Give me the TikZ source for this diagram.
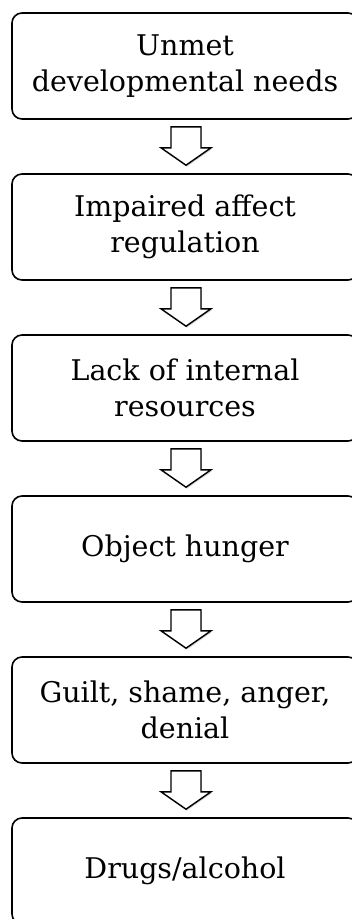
\documentclass[tikz,border=0pt]{standalone}
\usepackage{fontspec}
\setmainfont{DejaVu Serif}
\usetikzlibrary{calc,shadows}

\begin{document}
\begin{tikzpicture}[x=1pt,y=-1pt,
  stage/.style={draw,line width=1.6pt,rounded corners=10pt,minimum width=346pt,minimum height=106pt,
    inner sep=0pt,align=center,font=\fontsize{28.5}{36}\selectfont},
  hollow/.style={draw,line width=1.4pt,fill=white,line join=miter,
    drop shadow={shadow xshift=0.8pt,shadow yshift=-1.5pt,opacity=0.35}}]
\useasboundingbox (0,0) rectangle (352,919);

\node[stage] (s1) at (185,66) {Unmet\\developmental needs};
\node[stage] (s2) at (185,227) {Impaired affect\\regulation};
\node[stage] (s3) at (185,388) {Lack of internal\\resources};
\node[stage] (s4) at (185,549) {Object hunger};
\node[stage] (s5) at (185,710) {Guilt, shame, anger,\\denial};
\node[stage] (s6) at (185,871) {Drugs/alcohol};

% hollow block arrows between the stages
\foreach \a/\b in {s1/s2,s2/s3,s3/s4,s4/s5,s5/s6}
  \draw[hollow] ($(\a.south)+(-14,7)$) -- ++(30,0) -- ++(0,21) -- ++(10,0)
    -- ($(\b.north)+(1,-8)$) -- ($(\a.south)+(-24,28)$) -- ++(10,0) -- cycle;

\end{tikzpicture}
\end{document}
